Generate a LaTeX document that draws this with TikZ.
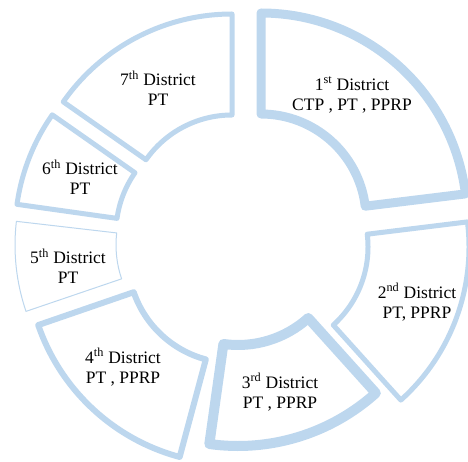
\documentclass[tikz,border=0pt]{standalone}
\usepackage{fontspec}
\setmainfont{Liberation Serif}
\definecolor{segblue}{RGB}{189,215,238}
\tikzset{
  seg/.style={draw=segblue, fill=white, line join=round},
  lbl/.style={align=center, font=\fontsize{17.5}{20}\selectfont, text=black, inner sep=0pt}
}
\newcommand{\drawseg}[5]{%
  \draw[seg, line width=#5pt, shift={(#1pt,#2pt)}]
    (#3:206pt) arc[start angle=#3, end angle=#4, radius=206pt]
    -- (#4:105pt) arc[start angle=#4, end angle=#3, radius=105pt] -- cycle;}
\newcommand{\sps}[1]{\textsuperscript{#1}}
\begin{document}
\begin{tikzpicture}[x=1pt,y=1pt]
\useasboundingbox (0,0) rectangle (468,461);
% segments: centre x, centre y, start angle, end angle, line width
\drawseg{261}{242}{7}{90}{9}
\drawseg{263}{214}{-48}{7}{5}
\drawseg{238}{221}{-98}{-48}{10}
\drawseg{233}{203}{-161}{-105}{6}
\drawseg{221}{216}{173.4}{198.8}{1}
\drawseg{221}{228}{145}{172}{5}
\drawseg{232}{241}{90}{145}{5}
% labels
\node[lbl] (d1) at (352,366) {1\sps{st} District\\CTP , PT , PPRP};
\node[lbl] (d2) at (417,159) {2\sps{nd} District\\PT, PPRP};
\node[lbl] (d3) at (280,69) {3\sps{rd} District\\PT , PPRP};
\node[lbl] (d4) at (123,94) {4\sps{th} District\\PT , PPRP};
\node[lbl] (d5) at (68,195) {5\sps{th} District\\PT};
\node[lbl] (d6) at (80,284) {6\sps{th} District\\PT};
\node[lbl] (d7) at (158,373) {7\sps{th} District\\PT};
\end{tikzpicture}
\end{document}
